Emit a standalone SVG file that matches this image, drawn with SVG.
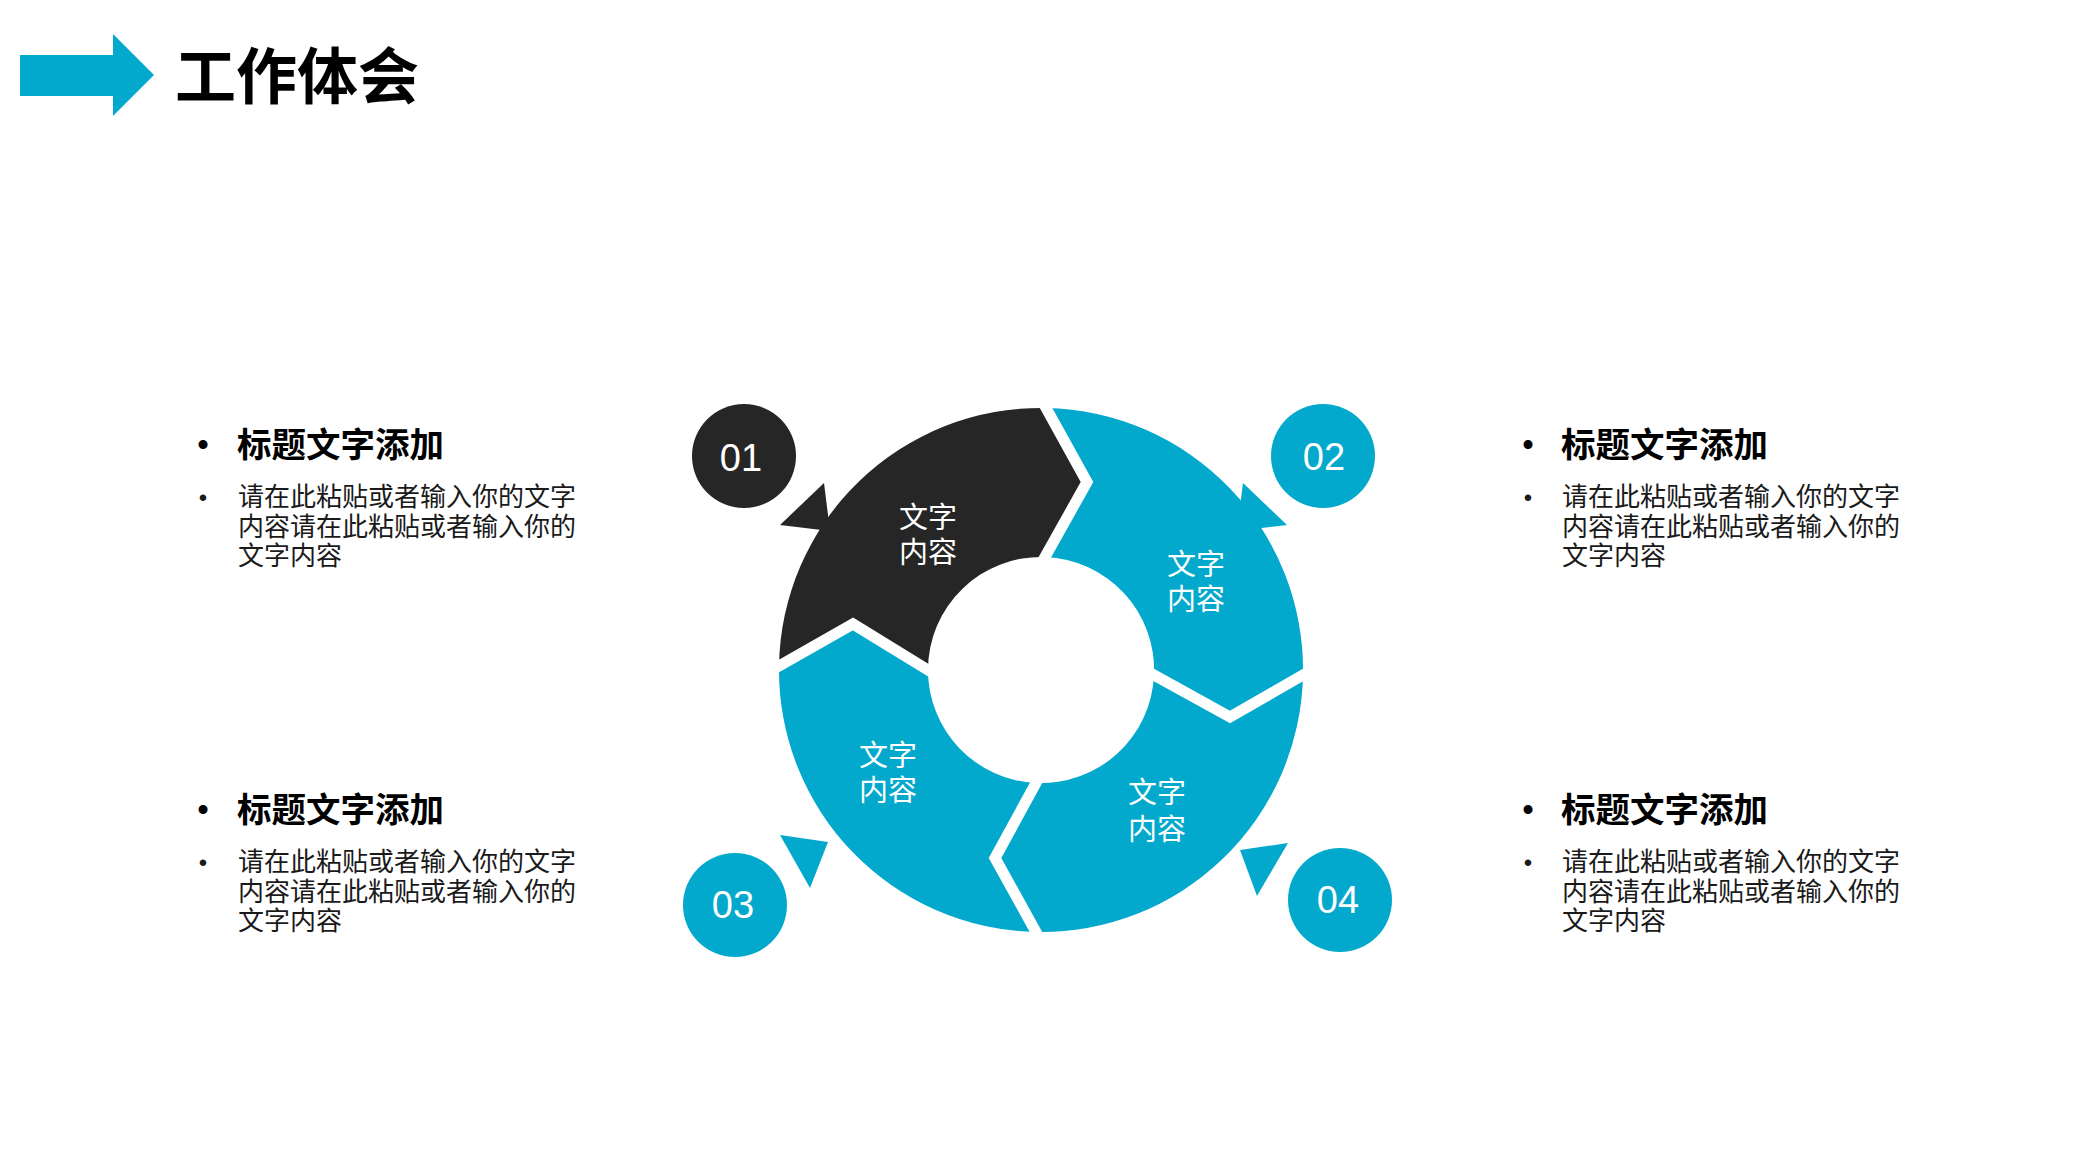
<svg xmlns="http://www.w3.org/2000/svg" width="2088" height="1174" viewBox="0 0 2088 1174">
<style>
.blue{fill:#03a9cd}
.dark{fill:#262626}
.cut{fill:none;stroke:#ffffff;stroke-width:11;stroke-linejoin:miter;stroke-linecap:square}
.num{font-family:"Liberation Sans",Arial,sans-serif;font-size:38px;fill:#ffffff;text-anchor:middle}
.seg{font-family:"Noto Sans CJK SC","Noto Sans",sans-serif;font-size:29px;fill:#ffffff;text-anchor:middle}
.head{font-family:"Noto Sans CJK SC",sans-serif;font-size:34.5px;font-weight:bold;fill:#000000}
.body{font-family:"Noto Sans CJK SC",sans-serif;font-size:26px;fill:#1a1a1a}
.b1{font-family:"Liberation Sans",Arial,sans-serif;font-size:33px;fill:#000000;text-anchor:middle}
.b2{font-family:"Liberation Sans",Arial,sans-serif;font-size:24px;fill:#1a1a1a;text-anchor:middle}
</style>
<rect width="2088" height="1174" fill="#ffffff"/>

<g id="header">
<polygon class="blue" points="20,55 113,55 113,34 154,75 113,116 113,96 20,96"/>
<text x="175" y="99" font-family="Noto Sans CJK SC, sans-serif" font-size="61" font-weight="bold" fill="#000000">工作体会</text>
</g>

<g id="ring">
<g id="seg1">
<path class="dark" d="M779,666 A262,262 0 0 1 1046,408 L1087,482 L1045,557 A113,113 0 0 0 928,670 L853,624 Z"/>
<text class="seg" x="928" y="528">文字<tspan x="928" y="563">内容</tspan></text>
</g>
<g id="seg2">
<path class="blue" d="M1046,408 A262,262 0 0 1 1303,675 L1230,717 L1154,675 A113,113 0 0 0 1045,557 L1087,482 Z"/>
<text class="seg" x="1196" y="575">文字<tspan x="1196" y="610">内容</tspan></text>
</g>
<g id="seg4">
<path class="blue" d="M1303,675 A262,262 0 0 1 1036,932 L995,858 L1036,783 A113,113 0 0 0 1154,675 L1230,717 Z"/>
<text class="seg" x="1157" y="803">文字<tspan x="1157" y="840">内容</tspan></text>
</g>
<g id="seg3">
<path class="blue" d="M1036,932 A262,262 0 0 1 779,666 L853,624 L928,670 A113,113 0 0 0 1036,783 L995,858 Z"/>
<text class="seg" x="888" y="766">文字<tspan x="888" y="801">内容</tspan></text>
</g>
</g>

<g id="connectors">
<polyline class="cut" points="779,666 853,624 928,670"/>
<polyline class="cut" points="1046,408 1087,482 1045,557"/>
<polyline class="cut" points="1303,675 1230,717 1154,675"/>
<polyline class="cut" points="1036,932 995,858 1036,783"/>
<polygon class="dark" points="780,525 824,483 830,531"/>
<polygon class="blue" points="1287,525 1243,483 1237,531"/>
<polygon class="blue" points="780,835 828,842 810,888"/>
<polygon class="blue" points="1240,850 1288,843 1257,896"/>
</g>

<g id="n01">
<circle class="dark" cx="744" cy="456" r="52"/>
<text class="num" x="741" y="471">01</text>
</g>
<g id="n02">
<circle class="blue" cx="1323" cy="456" r="52"/>
<text class="num" x="1324" y="470">02</text>
</g>
<g id="n03">
<circle class="blue" cx="735" cy="905" r="52"/>
<text class="num" x="733" y="918">03</text>
</g>
<g id="n04">
<circle class="blue" cx="1340" cy="900" r="52"/>
<text class="num" x="1338" y="913">04</text>
</g>

<g id="text-tl">
<text class="b1" x="203" y="456">•</text>
<text class="head" x="237" y="457">标题文字添加</text>
<text class="b2" x="203" y="506">•</text>
<text class="body" x="238" y="506">请在此粘贴或者输入你的文字<tspan x="238" y="536">内容请在此粘贴或者输入你的</tspan><tspan x="238" y="565">文字内容</tspan></text>
</g>
<g id="text-bl">
<text class="b1" x="203" y="821">•</text>
<text class="head" x="237" y="822">标题文字添加</text>
<text class="b2" x="203" y="871">•</text>
<text class="body" x="238" y="871">请在此粘贴或者输入你的文字<tspan x="238" y="901">内容请在此粘贴或者输入你的</tspan><tspan x="238" y="930">文字内容</tspan></text>
</g>
<g id="text-tr">
<text class="b1" x="1528" y="456">•</text>
<text class="head" x="1561" y="457">标题文字添加</text>
<text class="b2" x="1528" y="506">•</text>
<text class="body" x="1562" y="506">请在此粘贴或者输入你的文字<tspan x="1562" y="536">内容请在此粘贴或者输入你的</tspan><tspan x="1562" y="565">文字内容</tspan></text>
</g>
<g id="text-br">
<text class="b1" x="1528" y="821">•</text>
<text class="head" x="1561" y="822">标题文字添加</text>
<text class="b2" x="1528" y="871">•</text>
<text class="body" x="1562" y="871">请在此粘贴或者输入你的文字<tspan x="1562" y="901">内容请在此粘贴或者输入你的</tspan><tspan x="1562" y="930">文字内容</tspan></text>
</g>
</svg>
